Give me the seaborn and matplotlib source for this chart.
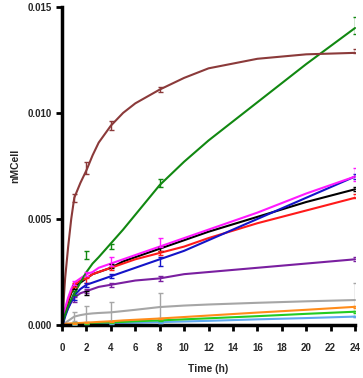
import numpy as np
import pandas as pd
import matplotlib
matplotlib.use("Agg")
import matplotlib.pyplot as plt
import seaborn as sns

# ---- data ----
t_curve = [0, 0.1, 0.25, 0.5, 0.75, 1, 1.5, 2, 2.5, 3, 4, 5, 6, 8, 10, 12, 16, 20, 24]
t_pts = [1, 2, 4, 8, 24]

series_names = ["gray", "lightblue", "lime", "orange", "purple", "black",
                "red", "blue", "magenta", "green", "brown"]
series_colors = ["#A6A6A6", "#5FA8F0", "#22CC22", "#FF8C1A", "#7A1FA0", "#000000",
                 "#FF1A1A", "#1414C8", "#FF1AFF", "#118811", "#8B3A3A"]

brown_curve = [0, 0.0009, 0.0022, 0.0037, 0.0050, 0.0060, 0.0067, 0.0073, 0.0080, 0.0086, 0.0094, 0.0100, 0.01045, 0.0111, 0.01165, 0.0121, 0.01255, 0.01276, 0.01283]
green_curve = [0, 0.0002, 0.0005, 0.0009, 0.0012, 0.0015, 0.0020, 0.0025, 0.0029, 0.0032, 0.00385, 0.0045, 0.0052, 0.0066, 0.0077, 0.0087, 0.0105, 0.0123, 0.0140]
magenta_curve = [0, 0.0003, 0.0008, 0.0013, 0.0017, 0.0020, 0.0022, 0.0024, 0.0025, 0.0027, 0.0029, 0.0031, 0.0033, 0.0037, 0.0041, 0.0045, 0.0053, 0.0062, 0.0070]
red_curve = [0, 0.0003, 0.0007, 0.0012, 0.0016, 0.0019, 0.0021, 0.0022, 0.0024, 0.0025, 0.0027, 0.0029, 0.0031, 0.0034, 0.0037, 0.0041, 0.0048, 0.0054, 0.0060]
blue_curve = [0, 0.0001, 0.0004, 0.0008, 0.0011, 0.0014, 0.0017, 0.0019, 0.0020, 0.0021, 0.0023, 0.0025, 0.0027, 0.0031, 0.0035, 0.0040, 0.0050, 0.0060, 0.0070]
black_curve = [0, 0.0002, 0.0006, 0.0011, 0.0015, 0.0018, 0.0020, 0.0022, 0.0024, 0.0025, 0.0027, 0.0030, 0.0032, 0.0036, 0.0040, 0.0044, 0.0051, 0.0058, 0.0064]
purple_curve = [0, 0.0002, 0.0005, 0.0008, 0.0011, 0.0013, 0.0015, 0.0016, 0.0017, 0.0018, 0.0019, 0.0020, 0.0021, 0.0022, 0.0024, 0.0025, 0.0027, 0.0029, 0.0031]
gray_curve = [0, 0.00004, 0.0001, 0.0002, 0.0003, 0.0004, 0.00047, 0.00052, 0.00055, 0.00057, 0.0006, 0.00066, 0.00072, 0.00085, 0.00092, 0.00097, 0.00105, 0.00112, 0.00118]
orange_curve = [0.00005, 0.00005, 0.00006, 0.00007, 0.00008, 0.00009, 0.0001, 0.00012, 0.00013, 0.00015, 0.00018, 0.00022, 0.00025, 0.00031, 0.00038, 0.00045, 0.00059, 0.00072, 0.00086]
lime_curve = [0.00003, 0.00003, 0.00004, 0.00005, 0.00005, 0.00006, 0.00007, 0.00009, 0.0001, 0.00011, 0.00013, 0.00015, 0.00018, 0.00022, 0.00027, 0.00032, 0.00042, 0.00053, 0.00063]
lightblue_curve = [0.00002, 0.00002, 0.00003, 0.00003, 0.00004, 0.00004, 0.00005, 0.00006, 0.00006, 0.00007, 0.00008, 0.0001, 0.00011, 0.00014, 0.00017, 0.0002, 0.00027, 0.00033, 0.0004]

brown_pts = [0.0060, 0.0074, 0.0094, 0.0111, 0.0129]
brown_err = [0.0002, 0.0003, 0.0002, 0.0001, 0.0001]
green_pts = [0.0015, 0.0033, 0.0037, 0.0067, 0.0141]
green_err = [0.0001, 0.0002, 0.0001, 0.0002, 0.0004]
magenta_pts = [0.0020, 0.0024, 0.0030, 0.0039, 0.0071]
magenta_err = [0.0001, 0.0001, 0.0002, 0.0002, 0.0003]
red_pts = [0.0019, 0.0021, 0.0027, 0.0034, 0.0061]
red_err = [0.0001, 0.0001, 0.0001, 0.0001, 0.0001]
blue_pts = [0.0013, 0.0019, 0.0023, 0.0030, 0.0070]
blue_err = [0.0001, 0.0001, 0.0001, 0.0002, 0.0001]
black_pts = [0.0018, 0.0015, 0.0028, 0.0036, 0.0064]
black_err = [0.0001, 0.0001, 0.0001, 0.0001, 0.0001]
purple_pts = [0.0012, 0.0016, 0.0019, 0.0022, 0.0031]
purple_err = [0.0001, 0.0001, 0.0001, 0.0001, 0.0001]
gray_pts = [0.0004, 0.0005, 0.0006, 0.0008, 0.0012]
gray_err = [0.0002, 0.0004, 0.0005, 0.0007, 0.0008]
orange_pts = [0.00009, 0.00012, 0.00018, 0.00031, 0.00086]
orange_err = [0.00002, 0.00002, 0.00002, 0.00002, 0.00005]
lime_pts = [0.00006, 0.00009, 0.00013, 0.00022, 0.00063]
lime_err = [0.00002, 0.00002, 0.00002, 0.00002, 0.00005]
lightblue_pts = [0.00004, 0.00006, 0.00008, 0.00014, 0.00040]
lightblue_err = [0.00002, 0.00002, 0.00002, 0.00002, 0.00004]

y_ticks = [0.000, 0.005, 0.010, 0.015]
y_tick_labels = ["0.000", "0.005", "0.010", "0.015"]
x_ticks = list(range(0, 25, 2))

curves = {"brown": brown_curve, "green": green_curve, "magenta": magenta_curve,
          "red": red_curve, "blue": blue_curve, "black": black_curve,
          "purple": purple_curve, "gray": gray_curve, "orange": orange_curve,
          "lime": lime_curve, "lightblue": lightblue_curve}
points = {"brown": (brown_pts, brown_err), "green": (green_pts, green_err),
          "magenta": (magenta_pts, magenta_err), "red": (red_pts, red_err),
          "blue": (blue_pts, blue_err), "black": (black_pts, black_err),
          "purple": (purple_pts, purple_err), "gray": (gray_pts, gray_err),
          "orange": (orange_pts, orange_err), "lime": (lime_pts, lime_err),
          "lightblue": (lightblue_pts, lightblue_err)}

rows = []
for name in series_names:
    for t, v in zip(t_curve, curves[name]):
        rows.append({"Time (h)": t, "nMCell": v, "series": name})
df = pd.DataFrame(rows)

sns.set_style("ticks")
plt.rcParams["font.family"] = ["Liberation Sans", "DejaVu Sans"]
plt.rcParams["font.weight"] = "bold"

fig = plt.figure(figsize=(3.63, 3.78), dpi=100)
ax = fig.add_axes([0.171, 0.140, 0.807, 0.842])

palette = dict(zip(series_names, series_colors))
sns.lineplot(data=df, x="Time (h)", y="nMCell", hue="series", hue_order=series_names,
             palette=palette, linewidth=1.5, legend=False, ax=ax, clip_on=False)

for name in series_names:
    pts, err = points[name]
    ax.errorbar(t_pts, pts, yerr=err, fmt="none", ecolor=palette[name],
                elinewidth=1.0, capsize=1.8, capthick=1.0, zorder=3)

ax.set_xlim(0, 24)
ax.set_ylim(0, 0.015)
ax.set_xticks(x_ticks)
ax.set_yticks(y_ticks)
ax.set_yticklabels(y_tick_labels)
ax.tick_params(axis="both", labelsize=7, width=2, length=4, direction="out", color="black")
for lab in ax.get_xticklabels() + ax.get_yticklabels():
    lab.set_fontweight("bold")
ax.xaxis.set_tick_params(pad=9)
for s in ["left", "bottom"]:
    ax.spines[s].set_linewidth(2.5)
    ax.spines[s].set_color("black")
sns.despine(ax=ax)
ax.set_xlabel("Time (h)", fontsize=7.5, fontweight="bold", labelpad=8)
ax.set_ylabel("nMCell", fontsize=7.5, fontweight="bold", labelpad=5)

fig.savefig("out.png", dpi=100)
